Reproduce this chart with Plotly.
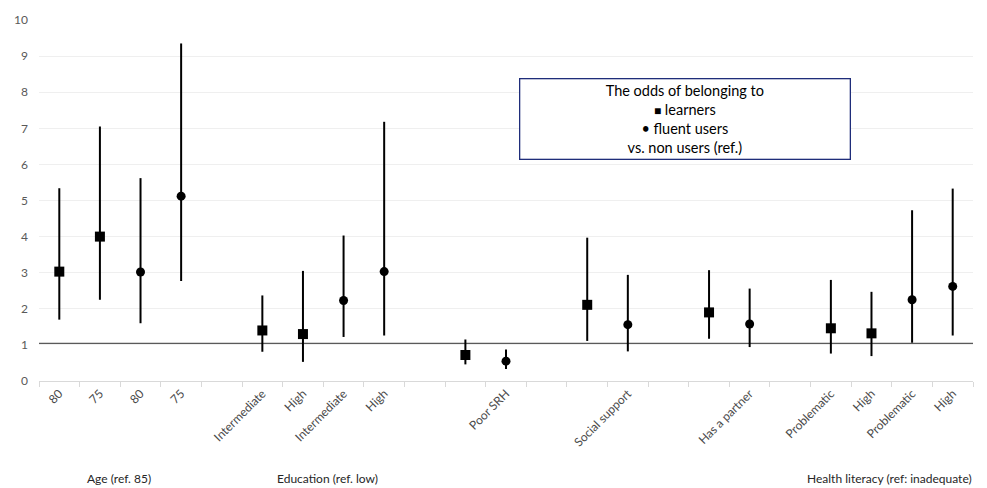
import plotly.graph_objects as go

# ---- data ----
tick_labels = ["80", "75", "80", "75", "",
               "Intermediate", "High", "Intermediate", "High", "",
               "", "Poor SRH", "", "", "Social support", "",
               "", "Has a partner", "",
               "Problematic", "High", "Problematic", "High"]

learner_idx = [0, 1, 5, 6, 10, 13, 16, 19, 20]
learner_or = [3.03, 4.00, 1.40, 1.30, 0.72, 2.11, 1.90, 1.46, 1.32]
learner_lo = [1.70, 2.25, 0.81, 0.53, 0.46, 1.11, 1.17, 0.76, 0.69]
learner_hi = [5.34, 7.05, 2.37, 3.05, 1.15, 3.97, 3.07, 2.80, 2.47]

fluent_idx = [2, 3, 7, 8, 11, 14, 17, 21, 22]
fluent_or = [3.02, 5.12, 2.23, 3.03, 0.55, 1.56, 1.58, 2.25, 2.62]
fluent_lo = [1.60, 2.77, 1.22, 1.26, 0.33, 0.82, 0.94, 1.06, 1.26]
fluent_hi = [5.62, 9.35, 4.03, 7.18, 0.87, 2.94, 2.56, 4.73, 5.33]

ref_value = 1.04

group_labels = ["Age (ref. 85)", "Education (ref. low)", "Health literacy (ref: inadequate)"]
group_pos = [1.47, 6.6, 20.44]

legend_lines = ["The odds of belonging to",
                "<span style='font-size:12px'>■</span> learners",
                "• fluent users",
                "vs. non users (ref.)"]

n = len(tick_labels)
FONT = "Lato, Open Sans, sans-serif"

fig = go.Figure()

def add_series(idx, val, lo, hi, symbol, size):
    fig.add_trace(go.Scatter(
        x=idx, y=val, mode="markers",
        marker=dict(symbol=symbol, size=size, color="black"),
        error_y=dict(type="data", symmetric=False,
                     array=[h - v for h, v in zip(hi, val)],
                     arrayminus=[v - l for v, l in zip(val, lo)],
                     width=0, thickness=2, color="black"),
        showlegend=False, hoverinfo="skip"))

add_series(learner_idx, learner_or, learner_lo, learner_hi, "square", 10)
add_series(fluent_idx, fluent_or, fluent_lo, fluent_hi, "circle", 9)

# reference line at OR = 1
fig.add_shape(type="line", xref="paper", yref="y", x0=0, x1=1,
              y0=ref_value, y1=ref_value,
              line=dict(color="#5a5a5a", width=1.3), layer="below")

for lab, pos in zip(group_labels, group_pos):
    fig.add_annotation(x=pos, xref="x", y=-0.27, yref="paper",
                       text=lab, showarrow=False,
                       font=dict(family=FONT, size=12, color="#262626"),
                       xanchor="center", yanchor="middle")

fig.add_annotation(x=0.692, xref="paper", y=0.726, yref="paper",
                   text="<br>".join(legend_lines), showarrow=False,
                   align="center", xanchor="center", yanchor="middle",
                   width=327, height=77,
                   bordercolor="#1f2d7a", borderwidth=1.3, borderpad=1,
                   bgcolor="white",
                   font=dict(family=FONT, size=14.5, color="black"))

fig.update_layout(
    width=987, height=488,
    margin=dict(l=39, r=14, t=17, b=107),
    plot_bgcolor="white", paper_bgcolor="white",
    font=dict(family=FONT, size=12, color="#4a4a4a"),
)

fig.update_xaxes(
    range=[-0.5, n - 0.5],
    tickmode="array", tickvals=list(range(n)), ticktext=tick_labels,
    tickangle=-45, ticks="", showgrid=False, zeroline=False,
    showline=True, linecolor="#d9d9d9", linewidth=1,
    tickfont=dict(family=FONT, size=12, color="#4a4a4a"),
    minor=dict(tickmode="array", tickvals=[i - 0.5 for i in range(n + 1)],
               ticks="outside", ticklen=5, tickcolor="#d9d9d9",
               tickwidth=1, showgrid=False),
)

fig.update_yaxes(
    range=[0, 10], tickmode="linear", tick0=0, dtick=1,
    showgrid=True, gridcolor="#efefef", gridwidth=1,
    zeroline=False, showline=False, ticks="",
    ticklabelstandoff=10,
    tickfont=dict(family=FONT, size=12, color="#595959"),
)

fig.write_html("out.html", config={"displayModeBar": False},
               post_script="document.body.style.margin='0';document.body.style.overflow='hidden';")
